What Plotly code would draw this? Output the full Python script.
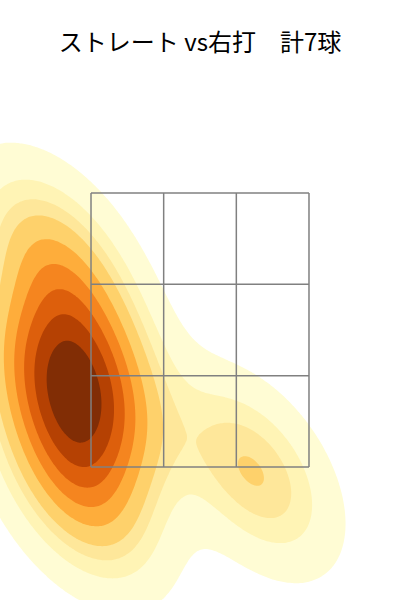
import numpy as np
import plotly.graph_objects as go

# pitch locations (horizontal / height, cm) - 7 pitches
pitch_x = [-39.9, -31.4, -39.6, -29.7, -37.4, -33.0, 14.6]
pitch_z = [91.4, 73.9, 65.8, 59.2, 52.0, 37.8, 43.9]

# strike zone grid lines (3x3)
zone_x = [-30, -10, 10, 30]
zone_z = [45, 65, 85, 105]

title = "ストレート vs右打　計7球"

# matplotlib YlOrBr anchors
YLORBR = ["#ffffe5", "#fff7bc", "#fee391", "#fec44f", "#fe9929",
          "#ec7014", "#cc4c02", "#993404", "#662506"]


def cmap(v):
    rgb = np.array([[int(c[i:i + 2], 16) for i in (1, 3, 5)] for c in YLORBR], float)
    pos = np.linspace(0, 1, len(YLORBR))
    r, g, b = (np.interp(v, pos, rgb[:, k]) for k in range(3))
    return f"rgb({r:.0f},{g:.0f},{b:.0f})"


# gaussian kde (scott's rule, full covariance) like seaborn's kdeplot
pts = np.vstack([pitch_x, pitch_z])
n = pts.shape[1]
factor = n ** (-1 / 6)
data_cov = np.cov(pts)
kcov = data_cov * factor ** 2
inv = np.linalg.inv(kcov)
bw = np.sqrt(np.diag(data_cov)) * factor

gx = np.linspace(pts[0].min() - 3 * bw[0], pts[0].max() + 3 * bw[0], 200)
gz = np.linspace(pts[1].min() - 3 * bw[1], pts[1].max() + 3 * bw[1], 200)
X, Z = np.meshgrid(gx, gz)
dens = np.zeros_like(X)
for xi, zi in zip(pitch_x, pitch_z):
    dx, dz = X - xi, Z - zi
    q = inv[0, 0] * dx * dx + 2 * inv[0, 1] * dx * dz + inv[1, 1] * dz * dz
    dens += np.exp(-q / 2)
dens /= n * 2 * np.pi * np.sqrt(np.linalg.det(kcov))

# iso-proportion levels (thresh=0.05, levels=10)
props = np.linspace(0.05, 1, 10)
sorted_vals = np.sort(dens.ravel())[::-1]
cum = np.cumsum(sorted_vals) / sorted_vals.sum()
levels = np.take(sorted_vals, np.searchsorted(cum, 1 - props), mode="clip")

fig = go.Figure()
for k in range(len(levels) - 1):
    mid = (levels[k] + levels[k + 1]) / 2
    color = cmap((mid - levels[0]) / (levels[-1] - levels[0]))
    # constraint contours shade the region that breaks the rule -> dens >= level
    fig.add_trace(go.Contour(
        x=gx, y=gz, z=dens,
        contours=dict(type="constraint", operation="<", value=levels[k]),
        fillcolor=color, line=dict(width=0),
        showscale=False, showlegend=False, hoverinfo="skip",
    ))

for zx in zone_x:
    fig.add_shape(type="line", x0=zx, x1=zx, y0=zone_z[0], y1=zone_z[-1],
                  line=dict(color="gray", width=1.5))
for zz in zone_z:
    fig.add_shape(type="line", x0=zone_x[0], x1=zone_x[-1], y0=zz, y1=zz,
                  line=dict(color="gray", width=1.5))

fig.update_layout(
    width=400, height=600,
    margin=dict(l=0, r=0, t=0, b=0),
    paper_bgcolor="white", plot_bgcolor="white",
    title=dict(text=title, x=0.5, xanchor="center", y=1 - 43 / 600,
               yanchor="middle", yref="container",
               font=dict(family="Noto Sans CJK JP", size=24, color="black")),
    xaxis=dict(range=[-55.05, 55.05], visible=False),
    yaxis=dict(range=[15.88, 147.26], visible=False),
)

fig.write_html("out.html", config={"displayModeBar": False},
               post_script="document.body.style.margin='0';")
